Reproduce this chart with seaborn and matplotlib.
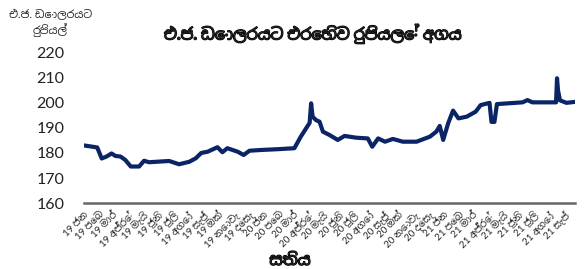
import matplotlib
matplotlib.use('Agg')
import matplotlib.pyplot as plt
import matplotlib.dates as mdates
import matplotlib.patheffects as pe
from matplotlib import font_manager
from matplotlib.ft2font import FT2Font
import pandas as pd
import seaborn as sns

# ── Datos ────────────────────────────────────────────────────────────────────
fechas = [
    "2019-01-01", "2019-01-15", "2019-01-28", "2019-02-06", "2019-02-16", "2019-02-26",
    "2019-03-06", "2019-03-16", "2019-03-26", "2019-04-06", "2019-04-23", "2019-05-03",
    "2019-05-13", "2019-06-06", "2019-06-23", "2019-07-13", "2019-08-03", "2019-08-16",
    "2019-08-27", "2019-09-09", "2019-09-29", "2019-10-09", "2019-10-19", "2019-11-09",
    "2019-11-21", "2019-12-03", "2019-12-27", "2020-01-29", "2020-03-03", "2020-03-16",
    "2020-03-29", "2020-04-03", "2020-04-06", "2020-04-09", "2020-04-16", "2020-04-23",
    "2020-04-30", "2020-05-13", "2020-05-30", "2020-06-13", "2020-07-06", "2020-07-30",
    "2020-08-08", "2020-08-20", "2020-09-03", "2020-09-19", "2020-10-09", "2020-11-06",
    "2020-12-03", "2020-12-16", "2020-12-23", "2020-12-30", "2021-01-09", "2021-01-19",
    "2021-01-30", "2021-02-16", "2021-03-06", "2021-03-16", "2021-04-03", "2021-04-07",
    "2021-04-13", "2021-04-18", "2021-06-09", "2021-06-19", "2021-06-29", "2021-08-16",
    "2021-08-18", "2021-08-20", "2021-08-24", "2021-09-06", "2021-09-24",
]
tipo_cambio = [
    183.0, 182.6, 182.2, 177.8, 178.6, 179.8,
    178.8, 178.6, 177.2, 174.6, 174.6, 176.9,
    176.3, 176.6, 176.8, 175.5, 176.5, 177.9,
    180.0, 180.5, 182.3, 180.3, 181.9, 180.5,
    179.2, 180.9, 181.2, 181.5, 181.9, 186.5,
    190.5, 192.0, 199.8, 194.5, 193.1, 192.5,
    188.5, 187.2, 185.2, 186.8, 186.1, 185.8,
    182.5, 185.8, 184.5, 185.6, 184.5, 184.5,
    186.5, 188.5, 190.8, 185.2, 191.8, 196.9,
    193.8, 194.5, 196.5, 199.1, 200.0, 192.4,
    192.4, 199.5, 200.2, 201.1, 200.2, 200.2,
    209.8, 205.0, 201.0, 200.0, 200.4,
]
meses = ["ජන", "පෙබ", "මාර්", "අප්‍රේ", "මැයි", "ජූනි", "ජූලි", "අගෝ", "සැප්", "ඔක්", "නොවැ", "දෙසැ"]
y_ticks = [160, 170, 180, 190, 200, 210, 220]

df = pd.DataFrame({'fecha': pd.to_datetime(fechas), 'valor': tipo_cambio})

# ── Fuente con glifos cingaleses (preferir sans, no mono) ────────────────────
candidatas = []
for f in font_manager.fontManager.ttflist:
    try:
        if 0x0DC3 in FT2Font(f.fname).get_charmap():
            candidatas.append(f.name)
    except Exception:
        pass

def prioridad(nombre):
    n = nombre.lower()
    p = 0
    if 'sinhala' in n:
        p -= 4
    if 'sans' in n:
        p -= 2
    if 'mono' in n:
        p += 5
    return p

candidatas = sorted(set(candidatas), key=prioridad)
fuente_si = candidatas[0] if candidatas else None

sns.set_style('white')
familia = ['Lato'] + ([fuente_si] if fuente_si else []) + ['DejaVu Sans']
plt.rcParams['font.family'] = familia

negrita = [pe.withStroke(linewidth=0.9, foreground='black')]

# ── Gráfico ──────────────────────────────────────────────────────────────────
fig = plt.figure(figsize=(5.87, 2.69), dpi=100)
ax = fig.add_axes([0.143, 0.245, 0.837, 0.559])
sns.lineplot(data=df, x='fecha', y='valor', color='#0a2466', linewidth=3.0, ax=ax)

ax.set_xlim(df['fecha'].min(), df['fecha'].max())
ax.set_ylim(160, 220)
ax.set_yticks(y_ticks)
ax.tick_params(axis='y', labelsize=11.5, colors='#222222', length=0, pad=14)

ticks_x = pd.date_range('2019-01-01', '2021-09-01', freq='MS')
etiquetas = [f"{t.year % 100} {meses[t.month - 1]}" for t in ticks_x]
ax.set_xticks(mdates.date2num(ticks_x))
ax.set_xticklabels(etiquetas, rotation=45, ha='right', rotation_mode='anchor', fontsize=7)
ax.tick_params(axis='x', length=0, pad=5)

for s in ['top', 'right', 'left']:
    ax.spines[s].set_visible(False)
ax.spines['bottom'].set_color('#666666')
ax.spines['bottom'].set_linewidth(1.8)
ax.set_xlabel('')
ax.set_ylabel('')

fig.text(0.086, 0.915, 'එ.ජ. ඩොලරයට\nරුපියල්', ha='center', va='center', fontsize=8, linespacing=1.25)
fig.text(0.533, 0.875, 'එ.ජ. ඩොලරයට එරෙහිව රුපියලේ අගය', ha='center', va='center',
         fontsize=11.5, fontweight='bold', path_effects=negrita)
fig.text(0.494, 0.03, 'සතිය', ha='center', va='center', fontsize=11.5, fontweight='bold',
         path_effects=negrita)

fig.savefig('out.png', dpi=100)
